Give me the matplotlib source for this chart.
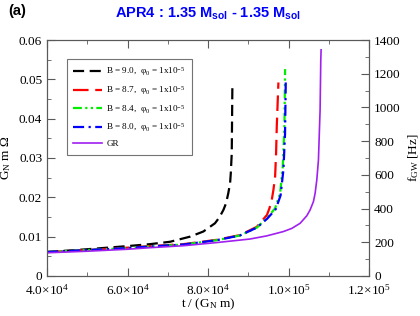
import matplotlib
matplotlib.use('Agg')
import matplotlib.pyplot as plt
from matplotlib.ticker import MultipleLocator, FixedLocator, FixedFormatter

plt.rcParams['font.family'] = ['Liberation Serif', 'DejaVu Serif']
plt.rcParams['mathtext.fontset'] = 'custom'
plt.rcParams['mathtext.rm'] = 'Liberation Serif'
plt.rcParams['mathtext.it'] = 'Liberation Serif:italic'
plt.rcParams['mathtext.bf'] = 'Liberation Sans:bold'

# B = 9.0
t_b90 = [40000, 50000, 60000, 65600, 70550, 75500, 78800, 81700, 82800, 83800, 84460, 85000,
         85460, 85630, 85870, 86030]
w_b90 = [0.0061, 0.0068, 0.0076, 0.0081, 0.0087, 0.0100, 0.0113, 0.0134, 0.0149, 0.0168, 0.0185, 0.0210,
         0.0236, 0.0261, 0.0312, 0.0488]
# B = 8.7
t_b87 = [40000, 50000, 60000, 65600, 73900, 82150, 87900, 92100, 94600, 95230, 95800, 96220,
         96640, 96880, 97050, 97460]
w_b87 = [0.0061, 0.0066, 0.0072, 0.0076, 0.0081, 0.0092, 0.0104, 0.0125, 0.0155, 0.0172, 0.0193, 0.0219,
         0.0253, 0.0312, 0.0380, 0.0492]
# B = 8.4
t_b84 = [40000, 50000, 60000, 65600, 73900, 82150, 87900, 92100, 94600, 96640, 97880, 98540, 98950, 99120]
w_b84 = [0.0061, 0.0066, 0.0071, 0.0075, 0.0080, 0.0091, 0.0103, 0.0123, 0.0147, 0.0172, 0.0210, 0.0278, 0.0380, 0.0526]
# B = 8.0
t_b80 = [40000, 50000, 60000, 65600, 73900, 82150, 87900, 92100, 94700, 96800, 98000, 98700, 99100, 99290]
w_b80 = [0.0061, 0.0066, 0.0071, 0.0075, 0.0080, 0.0091, 0.0103, 0.0123, 0.0146, 0.0170, 0.0205, 0.0270, 0.0360, 0.0498]
# GR
t_gr = [40000, 50000, 60000, 65600, 73900, 82150, 90400, 94570, 98700, 100780, 102850, 104500,
        105330, 106150, 106570, 106990, 107400, 107810, 107980, 108060]
w_gr = [0.0059, 0.0063, 0.0068, 0.0072, 0.0077, 0.0085, 0.0094, 0.0102, 0.0113, 0.0121, 0.0134, 0.0153,
        0.0168, 0.0189, 0.0210, 0.0244, 0.0295, 0.0422, 0.0549, 0.0575]

xticks = [40000, 60000, 80000, 100000, 120000]
xtick_labels = [r'4.0$\times$10$^{4}$', r'6.0$\times$10$^{4}$', r'8.0$\times$10$^{4}$',
                r'1.0$\times$10$^{5}$', r'1.2$\times$10$^{5}$']
yticks = [0, 0.01, 0.02, 0.03, 0.04, 0.05, 0.06]
ytick_labels = ['0', '0.01', '0.02', '0.03', '0.04', '0.05', '0.06']
fticks = [0, 200, 400, 600, 800, 1000, 1200, 1400]

fig = plt.figure(figsize=(4.2, 3.16), dpi=100)
ax = fig.add_axes([0.112, 0.1266, 0.767, 0.7468])

lbl = r'B = %s,  φ$_{0}$ = 1x10$^{-5}$'
ax.plot(t_b90, w_b90, color='black', lw=1.6, dashes=(5, 2.5), label=lbl % '9.0')
ax.plot(t_b87, w_b87, color='red', lw=1.6, dashes=(7, 3), label=lbl % '8.7')
ax.plot(t_b84, w_b84, color='#00ee00', lw=1.6, dashes=(4, 1.5, 1, 1.5, 1, 1.5), label=lbl % '8.4')
ax.plot(t_b80, w_b80, color='blue', lw=1.6, dashes=(5, 2, 1, 2), label=lbl % '8.0')
ax.plot(t_gr, w_gr, color='#a020f0', lw=1.2, label='GR')

ax.set_xlim(40000, 120000)
ax.set_ylim(0, 0.06)
ax.xaxis.set_major_locator(FixedLocator(xticks))
ax.xaxis.set_major_formatter(FixedFormatter(xtick_labels))
ax.xaxis.set_minor_locator(MultipleLocator(10000))
ax.yaxis.set_major_locator(FixedLocator(yticks))
ax.yaxis.set_major_formatter(FixedFormatter(ytick_labels))
ax.yaxis.set_minor_locator(MultipleLocator(0.005))
ax.tick_params(which='both', direction='in', top=True, right=False, labelsize=9.5, color='0.35')
ax.tick_params(axis='x', pad=5)
ax.tick_params(which='major', length=6)
ax.tick_params(which='minor', length=3)
for s in ax.spines.values():
    s.set_color('0.35')

ax.set_xlabel(r't / (G$_{\mathrm{N}}$ m)', fontsize=9.5, labelpad=-1)
ax.set_ylabel(r'G$_{\mathrm{N}}$ m Ω', fontsize=9.5, labelpad=4)

ax2 = ax.twinx()
ax2.set_ylim(0, 1400)
ax2.yaxis.set_major_locator(FixedLocator(fticks))
ax2.yaxis.set_minor_locator(MultipleLocator(100))
ax2.tick_params(which='both', direction='in', labelsize=9.5, color='0.35')
ax2.tick_params(which='major', length=6)
ax2.tick_params(which='minor', length=3)
for s in ax2.spines.values():
    s.set_color('0.35')
ax2.set_ylabel(r'f$_{\mathrm{GW}}$ [Hz]', fontsize=9.5, labelpad=4)

leg = ax.legend(loc='upper left', bbox_to_anchor=(0.062, 0.92), fontsize=6.6, fancybox=False,
                framealpha=1, edgecolor='0.45', handlelength=3.1, handletextpad=0.5,
                borderpad=0.7, labelspacing=0.62, borderaxespad=0)
leg.get_frame().set_linewidth(0.8)

fig.text(0.496, 0.955, r'APR4 : 1.35 M$_{\mathbf{sol}}$ - 1.35 M$_{\mathbf{sol}}$', color='blue',
         family='Liberation Sans', weight='bold', fontsize=10.5, ha='center', va='center')
fig.text(0.02, 0.965, '(a)', family='Liberation Sans', weight='bold', fontsize=10.5, va='center')

fig.savefig('out.png', dpi=100)
